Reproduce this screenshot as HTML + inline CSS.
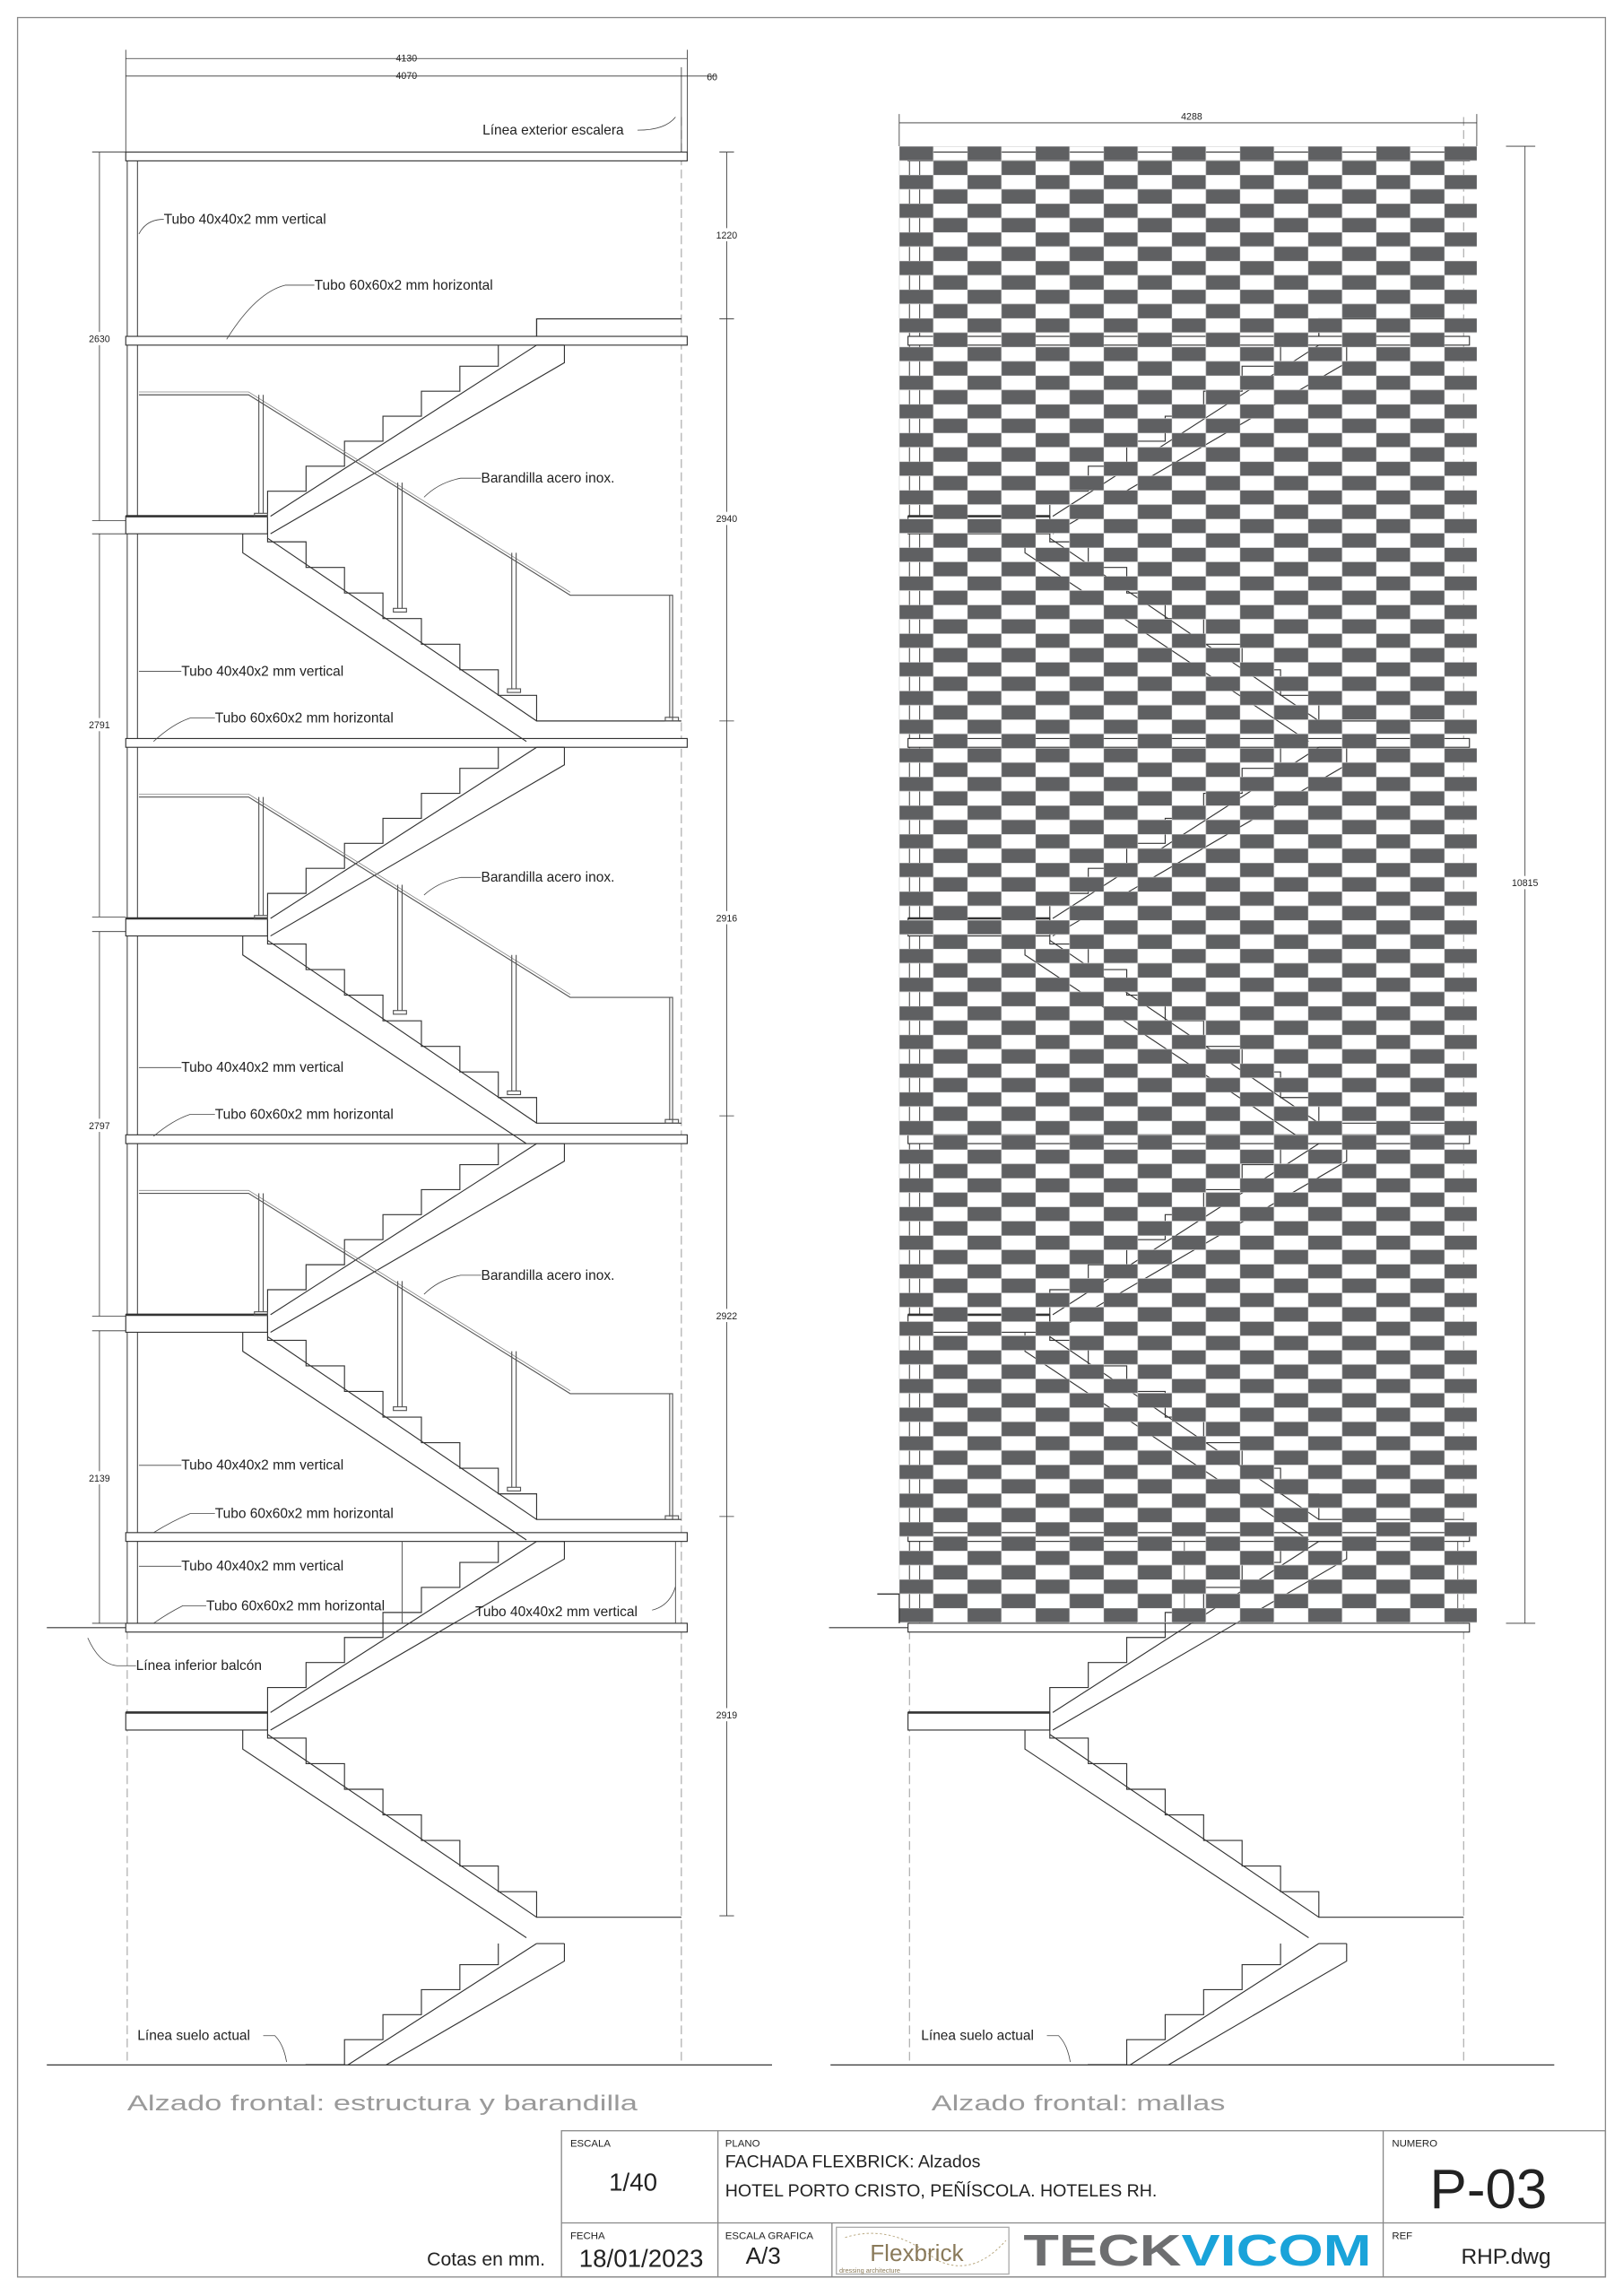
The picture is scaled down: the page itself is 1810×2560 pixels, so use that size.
<!DOCTYPE html>
<html><head><meta charset="utf-8"><style>
html,body{margin:0;padding:0;background:#fff;}
svg{display:block;}
text{font-family:"Liberation Sans",sans-serif;fill:#222;}
</style></head><body>
<svg width="1810" height="2560" viewBox="0 0 1110 1570" xmlns="http://www.w3.org/2000/svg">
<defs>
<pattern id="chk" x="615" y="100" width="46.6" height="19.6" patternUnits="userSpaceOnUse">
<rect x="0" y="0" width="23.3" height="9.8" fill="#5f6062"/>
<rect x="23.3" y="9.8" width="23.3" height="9.8" fill="#5f6062"/>
<path d="M0 0H46.6M0 9.8H46.6M0 0V19.6M23.3 0V19.6" stroke="#c8c8c8" stroke-width="0.4" fill="none"/>
</pattern>
<clipPath id="gnd"><rect x="0" y="0" width="1110" height="1412"/></clipPath>
<g id="stair" fill="none" stroke="#333" stroke-width="0.7">
<path d="M183 123V105.9H209.3V88.8H235.6V71.7H261.9V54.6H288.2V37.5H314.5V20.4H340.8V6"/>
<path d="M185 123L367 6M185 135L386 18V6M367 6H386"/>
<rect x="86" y="123" width="97" height="12" fill="#fff"/>
<path d="M86 123H183" stroke-width="1.6"/>
<path d="M183 123V140.5H209.3V158H235.6V175.5H261.9V193H288.2V210.5H314.5V228H340.8V245.5H367V263H466"/>
<path d="M183 138L367 263M166 135V148L360 277"/>
</g>
<g id="rail" fill="none" stroke="#555" stroke-width="0.7">
<path d="M95 40H170L390 177H460V263"/>
<path d="M95 38H170L390 175" stroke="#888" stroke-width="0.5"/>
<path d="M177 40V121M180 40V121M272 100V186M275 100V186M350 148V241M353 148V241M458 177V261"/>
<rect x="174" y="121" width="9" height="2.5"/><rect x="269" y="186" width="9" height="2.5"/><rect x="347" y="241" width="9" height="2.5"/><rect x="455" y="260.5" width="9" height="2.5"/>
</g>
<g id="slab"><rect x="86" y="0" width="384" height="6" fill="#fff" stroke="#333" stroke-width="0.7"/></g>
<g id="struct">
<path d="M87 104V1115M94 104V1115" stroke="#333" stroke-width="0.6"/>
<path d="M87 1115V1412M466 80V1412" stroke="#999" stroke-width="0.6" stroke-dasharray="6,3"/>
<rect x="86" y="104" width="384" height="6" fill="#fff" stroke="#333" stroke-width="0.7"/>
<path d="M367 232V218H466" fill="none" stroke="#333" stroke-width="0.8"/>
<use href="#slab" y="230"/><use href="#slab" y="505"/><use href="#slab" y="776"/><use href="#slab" y="1048"/><use href="#slab" y="1110"/>
<use href="#stair" y="230"/><use href="#stair" y="505"/><use href="#stair" y="776"/><use href="#stair" y="1048"/>
<g clip-path="url(#gnd)"><use href="#stair" y="1323"/></g>
<path d="M462 1054V1110M275 1054V1110" stroke="#555" stroke-width="0.6"/>
<path d="M32 1113H86" stroke="#333" stroke-width="0.7"/>
</g>
</defs>

<rect x="12" y="12" width="1086" height="1545" fill="none" stroke="#888" stroke-width="0.8"/>

<use href="#struct"/>
<use href="#rail" y="230"/><use href="#rail" y="505"/><use href="#rail" y="776"/>
<path d="M32 1412H528" stroke="#333" stroke-width="0.8"/>

<g stroke="#333" stroke-width="0.5" fill="none">
<path d="M86 34V104M466 46V104M470 34V104"/>
<path d="M86 40H470M86 52H470M466 52H490"/>
<path d="M497 104V1310"/>
<path d="M492 104H502M492 218H502M492 493H502M492 763H502M492 1037H502M492 1310H502"/>
<path d="M68 104V356M68 365V627M68 637V900M68 910V1110"/>
<path d="M63 104H95M63 356H86M63 365H86M63 627H86M63 637H86M63 900H86M63 910H86M63 1110H86"/>
</g>
<g font-size="6.5" text-anchor="middle">
<text x="278" y="42">4130</text><text x="278" y="54">4070</text><text x="487" y="55">60</text>
<rect x="487" y="156" width="20" height="9" fill="#fff"/><text x="497" y="163">1220</text>
<rect x="487" y="350" width="20" height="9" fill="#fff"/><text x="497" y="357">2940</text>
<rect x="487" y="623" width="20" height="9" fill="#fff"/><text x="497" y="630">2916</text>
<rect x="487" y="895" width="20" height="9" fill="#fff"/><text x="497" y="902">2922</text>
<rect x="487" y="1168" width="20" height="9" fill="#fff"/><text x="497" y="1175">2919</text>
<rect x="58" y="227" width="20" height="9" fill="#fff"/><text x="68" y="234">2630</text>
<rect x="58" y="491" width="20" height="9" fill="#fff"/><text x="68" y="498">2791</text>
<rect x="58" y="765" width="20" height="9" fill="#fff"/><text x="68" y="772">2797</text>
<rect x="58" y="1006" width="20" height="9" fill="#fff"/><text x="68" y="1013">2139</text>
</g>

<g font-size="9.5">
<text x="330" y="92">Línea exterior escalera</text>
<text x="112" y="153">Tubo 40x40x2 mm vertical</text>
<text x="215" y="198">Tubo 60x60x2 mm horizontal</text>
<text x="329" y="330">Barandilla acero inox.</text>
<text x="124" y="462">Tubo 40x40x2 mm vertical</text>
<text x="147" y="494">Tubo 60x60x2 mm horizontal</text>
<text x="329" y="603">Barandilla acero inox.</text>
<text x="124" y="733">Tubo 40x40x2 mm vertical</text>
<text x="147" y="765">Tubo 60x60x2 mm horizontal</text>
<text x="329" y="875">Barandilla acero inox.</text>
<text x="124" y="1005">Tubo 40x40x2 mm vertical</text>
<text x="147" y="1038">Tubo 60x60x2 mm horizontal</text>
<text x="124" y="1074">Tubo 40x40x2 mm vertical</text>
<text x="141" y="1101">Tubo 60x60x2 mm horizontal</text>
<text x="325" y="1105">Tubo 40x40x2 mm vertical</text>
<text x="93" y="1142">Línea inferior balcón</text>
<text x="94" y="1395">Línea suelo actual</text>
<text x="630" y="1395">Línea suelo actual</text>
</g>
<g fill="none" stroke="#444" stroke-width="0.5">
<path d="M436 89Q455 89 462 80M112 150Q100 150 95 160M215 195H195Q175 200 155 232M329 327H315Q300 330 290 340M124 459H95M147 491H130Q118 495 105 507M329 600H315Q300 603 290 612M124 730H95M147 762H130Q118 766 105 777M329 872H315Q300 875 290 885M124 1002H95M147 1035H130Q118 1040 105 1048M124 1071H95M141 1098H125Q115 1103 105 1110M446 1101Q458 1098 462 1085M93 1139H80Q68 1138 60 1120M180 1392H188Q194 1398 196 1410M716 1392H724Q730 1398 732 1410"/>
</g>

<!-- RIGHT ELEVATION -->
<g transform="translate(535,0)"><use href="#struct"/></g>
<rect x="615" y="100" width="395" height="1010" fill="url(#chk)"/>
<path d="M568 1412H1063M600 1090H615V1110" stroke="#333" stroke-width="0.8" fill="none"/>
<g stroke="#333" stroke-width="0.5" fill="none">
<path d="M615 78V100M1010 78V100M615 84H1010M1043 100V1110M1030 100H1050M1030 1110H1050"/>
</g>
<g font-size="6.5" text-anchor="middle">
<text x="815" y="82">4288</text>
<rect x="1031" y="599" width="24" height="9" fill="#fff"/><text x="1043" y="606">10815</text>
</g>

<text x="87" y="1443" font-size="15" style="fill:#9a9a9a" textLength="349" lengthAdjust="spacingAndGlyphs">Alzado frontal: estructura y barandilla</text>
<text x="637" y="1443" font-size="15" style="fill:#9a9a9a" textLength="201" lengthAdjust="spacingAndGlyphs">Alzado frontal: mallas</text>

<g fill="none" stroke="#888" stroke-width="0.8">
<rect x="384" y="1457" width="714" height="100"/>
<path d="M491 1457V1557M946 1457V1557M384 1520H1098M569 1520V1557"/>
<rect x="572" y="1523" width="118" height="32" stroke="#aaa"/>
</g>
<g font-size="7">
<text x="390" y="1468">ESCALA</text><text x="496" y="1468">PLANO</text><text x="952" y="1468">NUMERO</text>
<text x="390" y="1531">FECHA</text><text x="496" y="1531">ESCALA GRAFICA</text><text x="952" y="1531">REF</text>
</g>
<text x="433" y="1498" font-size="17" text-anchor="middle">1/40</text>
<text x="496" y="1482" font-size="12">FACHADA FLEXBRICK: Alzados</text>
<text x="496" y="1502" font-size="12">HOTEL PORTO CRISTO, PEÑÍSCOLA. HOTELES RH.</text>
<text x="1018" y="1510" font-size="38" text-anchor="middle">P-03</text>
<text x="396" y="1550" font-size="17">18/01/2023</text>
<text x="510" y="1548" font-size="16">A/3</text>
<text x="1030" y="1548" font-size="15" text-anchor="middle">RHP.dwg</text>
<text x="292" y="1549" font-size="13">Cotas en mm.</text>
<path d="M578 1530Q610 1520 640 1545Q665 1558 688 1532" fill="none" stroke="#b9a880" stroke-width="0.6" stroke-dasharray="1.5,1.5"/>
<text x="595" y="1546" font-size="16" style="fill:#8a7a5a">Flexbrick</text>
<text x="574" y="1554" font-size="4.5" style="fill:#8a7a5a">dressing architecture</text>
<text x="700" y="1549" font-size="30" font-weight="bold" textLength="238" lengthAdjust="spacingAndGlyphs"><tspan style="fill:#6d6e70">TECK</tspan><tspan style="fill:#1aa3d9">VICOM</tspan></text>
</svg>
</body></html>
